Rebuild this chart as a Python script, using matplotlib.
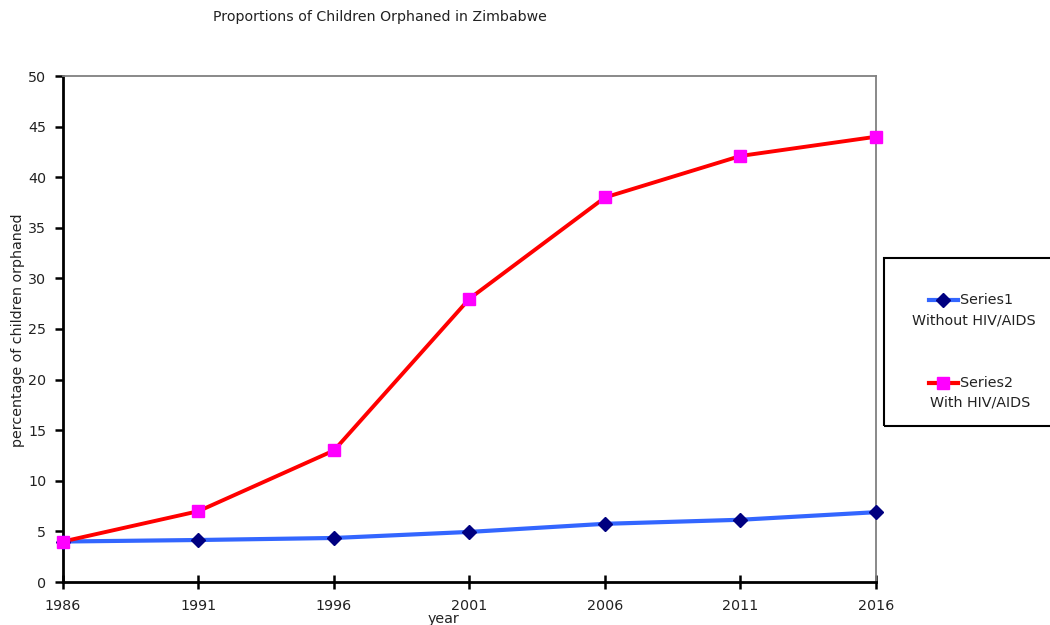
import numpy as np
import matplotlib.pyplot as plt
from matplotlib.patches import Rectangle
from matplotlib.lines import Line2D

years = [1986, 1991, 1996, 2001, 2006, 2011, 2016]
without_hiv = [4.0, 4.15, 4.35, 4.95, 5.75, 6.15, 6.9]
with_hiv = [4.0, 7.0, 13.0, 28.0, 38.0, 42.1, 44.0]

title = "Proportions of Children Orphaned in Zimbabwe"
series_names = ["Series1", "Series2"]
series_desc = ["Without HIV/AIDS", "With HIV/AIDS"]

plt.rcParams['font.family'] = ['DejaVu Sans']
TXT = '#222222'

fig = plt.figure(figsize=(10.5, 6.25), dpi=100)
ax = fig.add_axes([63/1050, 1-582/625, (876-63)/1050, (582-76)/625])

ax.plot(years, without_hiv, color='#3366ff', lw=3, solid_joinstyle='round',
        zorder=2, clip_on=False)
ax.plot(years, with_hiv, color='#ff0000', lw=2.8, solid_joinstyle='round',
        zorder=3, clip_on=False)
ax.plot(years, without_hiv, ls='none', marker='D', ms=7.5,
        color='#000080', zorder=4, clip_on=False)
ax.plot(years, with_hiv, ls='none', marker='s', ms=9,
        color='#ff00ff', zorder=5, clip_on=False)

ax.set_xlim(1986, 2016)
ax.set_ylim(0, 50)
ax.set_xticks(years)
ax.set_yticks(range(0, 51, 5))
ax.tick_params(axis='x', direction='inout', length=10, width=1.8,
               labelsize=10.3, colors='black', labelcolor=TXT, pad=7)
ax.tick_params(axis='y', direction='out', length=6, width=1.8,
               labelsize=10.3, colors='black', labelcolor=TXT, pad=6)

for side in ['left', 'bottom']:
    ax.spines[side].set_linewidth(2)
    ax.spines[side].set_color('black')
for side in ['top', 'right']:
    ax.spines[side].set_linewidth(1.3)
    ax.spines[side].set_color('#808080')

fig.text(380/1050, 1-17/625, title, ha='center', va='center',
         fontsize=10.2, color=TXT)
fig.text(18/1050, 1-330/625, "percentage of children orphaned", rotation=90,
         ha='center', va='center', fontsize=10.3, color=TXT)
fig.text(443/1050, 1-619/625, "year", ha='center', va='center',
         fontsize=10.3, color=TXT)

# legend box
fig.add_artist(Rectangle((884/1050, 1-426/625), 170/1050, 168/625,
                         transform=fig.transFigure, fill=False,
                         edgecolor='black', lw=1.5))
leg = [(300, '#3366ff', 'D', '#000080', 7.5, 974),
       (383, '#ff0000', 's', '#ff00ff', 9, 980)]
for (yy, lc, mk, mc, ms, cx), name, desc in zip(leg, series_names, series_desc):
    yf = 1 - yy/625
    fig.add_artist(Line2D([929/1050, 958/1050], [yf, yf], color=lc, lw=3,
                          transform=fig.transFigure))
    fig.add_artist(Line2D([943/1050], [yf], marker=mk, ms=ms, color=mc,
                          transform=fig.transFigure))
    fig.text(960/1050, yf, name, ha='left', va='center', fontsize=10.3, color=TXT)
    fig.text(cx/1050, yf - 20/625, desc, ha='center', va='center',
             fontsize=10.3, color=TXT)

fig.savefig('out.png', dpi=100)
